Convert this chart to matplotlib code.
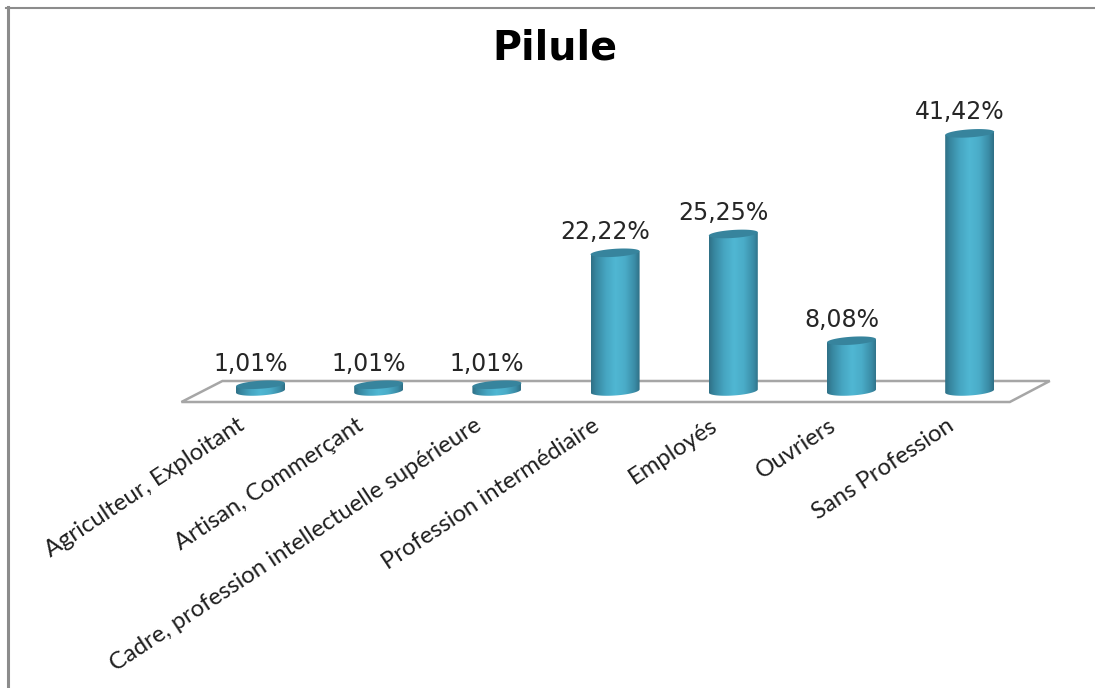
import numpy as np
import matplotlib
matplotlib.use("Agg")
import matplotlib.pyplot as plt
from matplotlib.colors import LinearSegmentedColormap
from matplotlib.lines import Line2D
from matplotlib.patches import PathPatch, Polygon
from matplotlib.path import Path

categories = ["Agriculteur, Exploitant", "Artisan, Commerçant",
              "Cadre, profession intellectuelle supérieure",
              "Profession intermédiaire", "Employés", "Ouvriers", "Sans Profession"]
values = [1.01, 1.01, 1.01, 22.22, 25.25, 8.08, 41.42]
value_labels = ["1,01%", "1,01%", "1,01%", "22,22%", "25,25%", "8,08%", "41,42%"]
title = "Pilule"

W, H = 1095, 688
fig = plt.figure(figsize=(W / 100, H / 100), dpi=100, facecolor="white")
ax = fig.add_axes([0, 0, 1, 1])
ax.axis("off")

PX_X0, PX_DX = 260.5, 118.2
PX_Y0, PX_DY = 391.0, 6.22
xlim = ((0 - PX_X0) / PX_DX, (W - PX_X0) / PX_DX)
ylim = ((PX_Y0 - H) / PX_DY, (PX_Y0 - 0) / PX_DY)
ax.set_xlim(xlim)
ax.set_ylim(ylim)

def ux(px):
    return px / PX_DX
def uy(px):
    return px / PX_DY

n = len(categories)
floor = Polygon([(-0.5 - ux(20), -uy(11)), (n - 0.5 - ux(19), -uy(11)),
                 (n - 0.5 + ux(21), uy(10)), (-0.5 + ux(21), uy(10))],
                closed=True, facecolor="white", edgecolor="#a6a6a6", lw=1.8, zorder=1)
ax.add_patch(floor)

cmap = LinearSegmentedColormap.from_list("cyl", [
    (0.0, "#2f7086"), (0.1, "#37869f"), (0.3, "#46a5c1"), (0.5, "#50b7d3"),
    (0.7, "#4aacc8"), (0.9, "#3a8ba5"), (1.0, "#2f6f85")])
grad = np.linspace(0, 1, 128).reshape(1, -1)

bw = ux(49) / 2
ry_top = uy(4.0)
ry_base = uy(4.5)
tilt = uy(1.6)
t_low = np.linspace(np.pi, 2 * np.pi, 40)
t_cap = np.linspace(0, 2 * np.pi, 80)

for i, v in enumerate(values):
    bx = i + bw * np.cos(t_low)
    by = ry_base * np.sin(t_low) + tilt * np.cos(t_low)
    verts = list(zip(bx, by)) + [(i + bw, v + tilt), (i - bw, v - tilt)]
    patch = PathPatch(Path(verts + [verts[0]]), facecolor="none", edgecolor="none", zorder=3)
    ax.add_patch(patch)
    im = ax.imshow(grad, cmap=cmap, extent=(i - bw, i + bw, -uy(8), v + uy(6)),
                   aspect="auto", zorder=3)
    im.set_clip_path(patch)
    cap_xy = np.column_stack([i + bw * np.cos(t_cap),
                              v + ry_top * np.sin(t_cap) + tilt * np.cos(t_cap)])
    ax.add_patch(Polygon(cap_xy, closed=True, facecolor="#37849d", edgecolor="none", zorder=4))
    ax.annotate(value_labels[i], xy=(i, v), xytext=(-7.2, 6.5), textcoords="offset points",
                ha="center", va="bottom", fontsize=17, color="#262626",
                family="DejaVu Sans", zorder=5)
    ax.annotate(categories[i], xy=(i, 0), xytext=(-17, -17), textcoords="offset points",
                ha="right", va="top", rotation=33.5, rotation_mode="anchor",
                fontsize=17.2, color="#1f1f1f", family="Lato", zorder=5)

ax.set_xlim(xlim)
ax.set_ylim(ylim)

ax.text(0.507, 0.929, title, transform=ax.transAxes, ha="center", va="center",
        fontsize=28.5, fontweight="bold", family="DejaVu Sans", color="black")

fig.add_artist(Line2D([7.5 / W, 7.5 / W], [0, 1 - 7 / H], color="#8c8c8c", lw=2.2))
fig.add_artist(Line2D([6 / W, 1], [1 - 8 / H, 1 - 8 / H], color="#8c8c8c", lw=1.5))

fig.savefig("out.png", dpi=100)
